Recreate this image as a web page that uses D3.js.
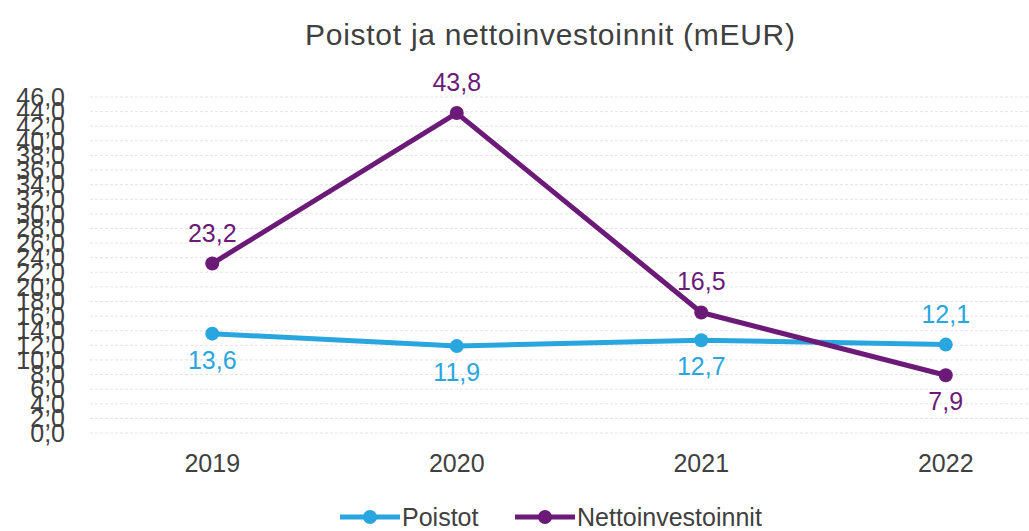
<!DOCTYPE html>
<html>
<head>
<meta charset="utf-8">
<script src="https://cdn.jsdelivr.net/npm/d3@7"></script>
<style>
	body { margin: 0; background: #fff; }
	svg { display: block; font-family: "Liberation Sans", Arial, sans-serif; }
</style>
</head>
<body>
<div id="chart"></div>
<script>
var years = ["2019", "2020", "2021", "2022"];
var poistot = [13.6, 11.9, 12.7, 12.1];
var nettoinvestoinnit = [23.2, 43.8, 16.5, 7.9];
var yTicks = d3.range(0, 47, 2);

// label placement per point: "above" or "below"
var poistotPos = ["below", "below", "below", "above"];
var nettoPos = ["above", "above", "above", "below"];

var width = 1029, height = 531;
var plot = {left: 90, right: 1068, top: 97, bottom: 433};

var svg = d3.select("#chart").append("svg")
	.attr("width", width)
	.attr("height", height);

var x = d3.scalePoint()
	.domain(years)
	.range([plot.left, plot.right])
	.padding(0.5);
var y = d3.scaleLinear()
	.domain([0, 46])
	.range([plot.bottom, plot.top]);

var fmt = function(v){ return d3.format(".1f")(v).replace(".", ","); };

// title
svg.append("text")
	.attr("x", 550)
	.attr("y", 45)
	.attr("text-anchor", "middle")
	.attr("font-size", "30px")
	.attr("textLength", 490)
	.attr("fill", "#404040")
	.text("Poistot ja nettoinvestoinnit (mEUR)");

// gridlines
svg.append("g").selectAll("line")
	.data(yTicks)
	.enter().append("line")
	.attr("x1", plot.left)
	.attr("x2", width)
	.attr("y1", function(d){ return y(d); })
	.attr("y2", function(d){ return y(d); })
	.attr("stroke", "#e4e4e4")
	.attr("stroke-width", 1)
	.attr("stroke-dasharray", "3,2");

// y axis labels
svg.append("g").selectAll("text")
	.data(yTicks)
	.enter().append("text")
	.attr("x", 65)
	.attr("y", function(d){ return y(d); })
	.attr("dy", "0.35em")
	.attr("text-anchor", "end")
	.attr("font-size", "25px")
	.attr("fill", "#404040")
	.text(fmt);

// x axis labels
svg.append("g").selectAll("text")
	.data(years)
	.enter().append("text")
	.attr("x", function(d){ return x(d); })
	.attr("y", 472)
	.attr("text-anchor", "middle")
	.attr("font-size", "25px")
	.attr("fill", "#404040")
	.text(function(d){ return d; });

var series = [
	{name: "Poistot", values: poistot, pos: poistotPos, color: "#29a6de"},
	{name: "Nettoinvestoinnit", values: nettoinvestoinnit, pos: nettoPos, color: "#6b1a78"}
];

var line = d3.line()
	.x(function(d, i){ return x(years[i]); })
	.y(function(d){ return y(d); });

series.forEach(function(s){
	var g = svg.append("g");
	g.append("path")
		.datum(s.values)
		.attr("d", line)
		.attr("fill", "none")
		.attr("stroke", s.color)
		.attr("stroke-width", 5)
		.attr("stroke-linejoin", "round");
	g.selectAll("circle")
		.data(s.values)
		.enter().append("circle")
		.attr("cx", function(d, i){ return x(years[i]); })
		.attr("cy", function(d){ return y(d); })
		.attr("r", 7)
		.attr("fill", s.color);
	g.selectAll("text")
		.data(s.values)
		.enter().append("text")
		.attr("x", function(d, i){ return x(years[i]); })
		.attr("y", function(d, i){ return s.pos[i] === "above" ? y(d) - 22 : y(d) + 35; })
		.attr("text-anchor", "middle")
		.attr("font-size", "25px")
		.attr("fill", s.color)
		.text(fmt);
});

// legend
var legend = svg.append("g").attr("transform", "translate(340,517)");
var legendX = [0, 175];
series.forEach(function(s, i){
	var lg = legend.append("g").attr("transform", "translate(" + legendX[i] + ",0)");
	lg.append("line")
		.attr("x1", 0).attr("x2", 60)
		.attr("stroke", s.color)
		.attr("stroke-width", 5);
	lg.append("circle")
		.attr("cx", 30)
		.attr("r", 7)
		.attr("fill", s.color);
	lg.append("text")
		.attr("x", 62)
		.attr("dy", "0.35em")
		.attr("font-size", "25px")
		.attr("fill", "#404040")
		.text(s.name);
});
</script>
</body>
</html>
